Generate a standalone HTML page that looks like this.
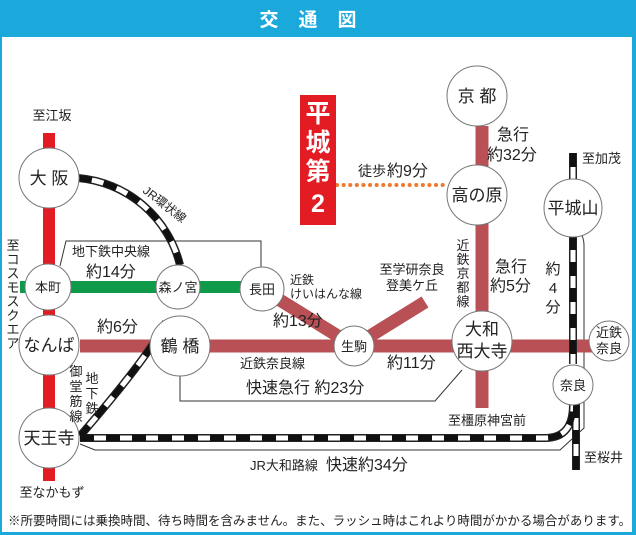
<!DOCTYPE html>
<html><head><meta charset="utf-8"><style>
html,body{margin:0;padding:0;background:#fff}
svg{display:block}
text{font-family:"Liberation Sans","Noto Sans CJK JP",sans-serif;fill:#222}
</style></head><body>
<svg width="636" height="535" viewBox="0 0 636 535" xmlns="http://www.w3.org/2000/svg">
<rect x="0" y="0" width="636" height="535" fill="#1ba9dc"/>
<rect x="2" y="37" width="630" height="495" fill="#fff"/>
<text x="318" y="26" text-anchor="middle" font-size="19" font-weight="bold" style="fill:#fff" letter-spacing="20">交通図</text>

<g fill="none" stroke="#333" stroke-width="1">
<path d="M60,266 L66,241 L261,241 L261,268"/>
<path d="M180,376 L180,401 L435,401 L462,370"/>
<path d="M80,444 L95,450 L560,450 L584,428 L584,245 Q584,238 580,232"/>
</g>

<rect x="43" y="133" width="12" height="348" fill="#e31b23"/>
<rect x="20" y="281" width="242" height="12" fill="#0e9a48"/>
<g stroke="#b85055" stroke-width="13" fill="none">
<line x1="80" y1="346" x2="609" y2="346"/>
<line x1="482" y1="126" x2="482" y2="408"/>
<path d="M262,289 L354,346"/>
<path d="M354,346 L425,302"/>
</g>

<g fill="none">
<g stroke="#222" stroke-width="8">
<path d="M78,178 A115,115 0 0 1 180,265"/>
<path d="M166,322 Q150,355 80,436"/>
<path d="M80,438 L545,438 Q573,438 573,405"/>
<line x1="573" y1="153" x2="573" y2="180"/>
<line x1="573" y1="236" x2="573" y2="364"/>
<line x1="576" y1="404" x2="576" y2="470"/>
</g>
<g stroke="#fff" stroke-width="5">
<path d="M78,178 A115,115 0 0 1 180,265"/>
<path d="M166,322 Q150,355 80,436"/>
<path d="M80,438 L545,438 Q573,438 573,405"/>
<line x1="573" y1="153" x2="573" y2="180"/>
<line x1="573" y1="236" x2="573" y2="364"/>
<line x1="576" y1="404" x2="576" y2="470"/>
</g>
<g stroke="#111" stroke-width="6" stroke-dasharray="14,12">
<path d="M78,178 A115,115 0 0 1 180,265"/>
<path d="M166,322 Q150,355 80,436"/>
<path d="M80,438 L545,438 Q573,438 573,405"/>
<line x1="573" y1="153" x2="573" y2="180"/>
<line x1="573" y1="236" x2="573" y2="364"/>
<line x1="576" y1="404" x2="576" y2="470"/>
</g>
</g>

<line x1="337" y1="185" x2="447" y2="185" stroke="#ef7a2e" stroke-width="4" stroke-linecap="round" stroke-dasharray="0.1,6.5"/>

<rect x="300" y="95" width="36" height="130" fill="#e31b23"/>
<g font-size="25" font-weight="bold" text-anchor="middle">
<text x="318" y="122" style="fill:#fff">平</text>
<text x="318" y="151" style="fill:#fff">城</text>
<text x="318" y="180" style="fill:#fff">第</text>
<text x="318" y="212" style="fill:#fff">2</text>
</g>

<g fill="#fff" stroke="#777" stroke-width="1">
<circle cx="49" cy="178" r="30"/>
<circle cx="48" cy="287" r="23"/>
<circle cx="49" cy="345" r="30"/>
<circle cx="49" cy="438" r="30"/>
<circle cx="178" cy="287" r="22"/>
<circle cx="262" cy="289" r="22"/>
<circle cx="180" cy="346" r="30"/>
<circle cx="354" cy="346" r="20"/>
<circle cx="482" cy="341" r="30"/>
<circle cx="609" cy="341" r="20"/>
<circle cx="573" cy="385" r="20"/>
<circle cx="477" cy="96" r="30"/>
<circle cx="477" cy="195" r="30"/>
<circle cx="573" cy="208" r="29"/>
</g>
<g text-anchor="middle" font-size="17">
<text x="49" y="184">大 阪</text>
<text x="48" y="292" font-size="13">本町</text>
<text x="49" y="351">なんば</text>
<text x="49" y="444">天王寺</text>
<text x="178" y="292" font-size="13">森ノ宮</text>
<text x="262" y="294" font-size="13">長田</text>
<text x="180" y="352">鶴 橋</text>
<text x="354" y="351" font-size="13">生駒</text>
<text x="482" y="335">大和</text>
<text x="482" y="357">西大寺</text>
<text x="609" y="337" font-size="13">近鉄</text>
<text x="609" y="353" font-size="13">奈良</text>
<text x="573" y="390" font-size="13">奈良</text>
<text x="477" y="102">京 都</text>
<text x="477" y="201">高の原</text>
<text x="573" y="214">平城山</text>
</g>

<g font-size="13">
<text x="52" y="120" text-anchor="middle">至江坂</text>
<text x="52" y="497" text-anchor="middle">至なかもず</text>
<text x="72" y="256">地下鉄中央線</text>
<text x="290" y="284" font-size="12">近鉄</text>
<text x="290" y="298" font-size="12">けいはんな線</text>
<text x="240" y="368">近鉄奈良線</text>
<text x="412" y="274" text-anchor="middle">至学研奈良</text>
<text x="412" y="290" text-anchor="middle">登美ケ丘</text>
<text x="582" y="163">至加茂</text>
<text x="448" y="425">至橿原神宮前</text>
<text x="584" y="462">至桜井</text>
<text x="250" y="470">JR大和路線</text>
<text x="358" y="176" font-size="14">徒歩</text>
<text x="8" y="525" font-size="12.5">※所要時間には乗換時間、待ち時間を含みません。また、ラッシュ時はこれより時間がかかる場合があります。</text>
</g>
<g font-size="16">
<text x="86" y="277">約14分</text>
<text x="97" y="332">約6分</text>
<text x="273" y="326">約13分</text>
<text x="246" y="393">快速急行  約23分</text>
<text x="387" y="368">約11分</text>
<text x="495" y="272">急行</text>
<text x="490" y="291">約5分</text>
<text x="497" y="140">急行</text>
<text x="487" y="160">約32分</text>
<text x="387" y="176">約9分</text>
<text x="326" y="470">快速約34分</text>
</g>
<text x="142" y="192" font-size="12" transform="rotate(38 142 192)">JR環状線</text>
<g font-size="13" text-anchor="middle">
<text x="13" y="250">至</text><text x="13" y="264">コ</text><text x="13" y="278">ス</text><text x="13" y="292">モ</text><text x="13" y="306">ス</text><text x="13" y="320">ク</text><text x="13" y="334">エ</text><text x="13" y="348">ア</text>
<text x="76" y="376">御</text><text x="76" y="391">堂</text><text x="76" y="406">筋</text><text x="76" y="421">線</text>
<text x="92" y="383">地</text><text x="92" y="398">下</text><text x="92" y="413">鉄</text>
<text x="463" y="250">近</text><text x="463" y="264">鉄</text><text x="463" y="278">京</text><text x="463" y="292">都</text><text x="463" y="306">線</text>
</g>
<g font-size="15" text-anchor="middle">
<text x="553" y="274">約</text><text x="553" y="293">4</text><text x="553" y="312">分</text>
</g>
</svg>
</body></html>
